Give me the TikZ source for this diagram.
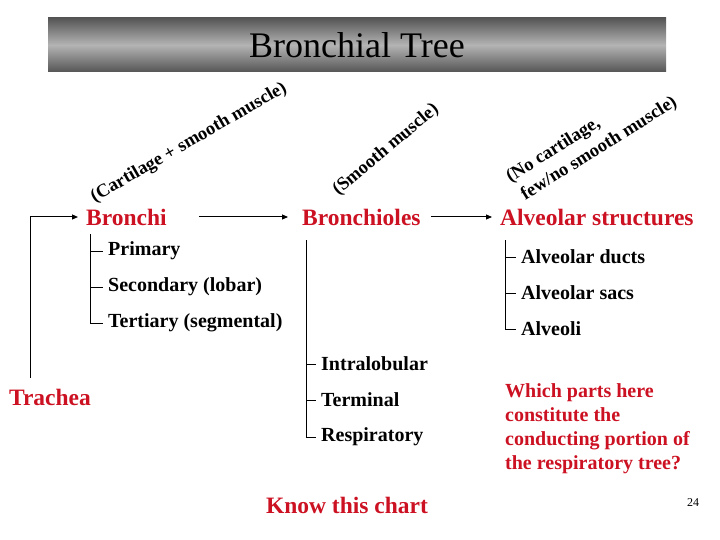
\documentclass[tikz,border=0pt]{standalone}
\usepackage{fontspec}
\setmainfont{Liberation Serif}
\usepackage{tikz}
\usetikzlibrary{arrows.meta, positioning, calc}
\definecolor{slidered}{RGB}{204,17,34}
\definecolor{bandedge}{RGB}{85,85,85}
\definecolor{bandmid}{RGB}{180,180,180}
\tikzset{
  level/.style={font=\fontsize{23.5}{26}\selectfont\bfseries, text=slidered, inner sep=4pt},
  sublevel/.style={font=\fontsize{20}{22}\selectfont\bfseries, anchor=west, inner sep=5pt},
  note/.style={font=\fontsize{18.5}{23}\selectfont\bfseries, align=center, inner sep=0pt},
  arrow/.style={-{Triangle[length=6pt, width=5pt]}, line width=1pt, color=black},
  line/.style={draw, line width=1pt, color=black}
}

\begin{document}
\begin{tikzpicture}[x=1pt, y=-1pt]
  \useasboundingbox (0,0) rectangle (720,540);

  % Title band
  \node[top color=bandedge, bottom color=bandedge, middle color=bandmid,
    minimum width=618pt, minimum height=54pt, inner sep=0pt,
    font=\fontsize{36}{40}\selectfont] (title) at (357,45) {Bronchial Tree};

  % Main levels
  \node[level, anchor=west] (bronchi) at (82,217) {Bronchi};
  \node[level, anchor=west] (bronchioles) at (298,217) {Bronchioles};
  \node[level, anchor=west] (alveolar) at (496,217) {Alveolar structures};
  \node[level] (trachea) at (50,397) {Trachea};

  % Notes above the levels
  \node[note, rotate=30] (cartnote) at (189,143) {(Cartilage + smooth muscle)};
  \node[note, rotate=40] (smoothnote) at (386,150) {(Smooth muscle)};
  \node[note, align=left, rotate=32] (nocartnote) at (592,140) {(No cartilage,\\\hspace{3pt}few/no smooth muscle)};

  % Level arrows
  \coordinate (trunk) at (30,378);
  \draw[arrow, shorten >=4pt] (trunk) |- (bronchi.west);
  \draw[arrow, shorten >=10pt] ($(bronchi.east)+(28,0)$) -- (bronchioles.west);
  \draw[arrow, shorten >=4pt] ($(bronchioles.east)+(6,0)$) -- (alveolar.west);

  % Bronchi branches
  \node[sublevel] (primary) at (103,251) {Primary};
  \node[sublevel] (secondary) at (103,287) {Secondary (lobar)};
  \node[sublevel] (tertiary) at (103,323) {Tertiary (segmental)};
  \coordinate (bstem) at (90,234);
  \draw[line] (bstem) |- (tertiary.west);
  \draw[line] (bstem |- primary.west) -- (primary.west);
  \draw[line] (bstem |- secondary.west) -- (secondary.west);

  % Bronchiole branches
  \node[sublevel] (intralobular) at (316,364) {Intralobular};
  \node[sublevel] (terminal) at (316,400) {Terminal};
  \node[sublevel] (respiratory) at (316,437) {Respiratory};
  \coordinate (blstem) at (306,240);
  \draw[line] (blstem) |- (respiratory.west);
  \draw[line] (blstem |- intralobular.west) -- (intralobular.west);
  \draw[line] (blstem |- terminal.west) -- (terminal.west);

  % Alveolar branches
  \node[sublevel] (ducts) at (516,257) {Alveolar ducts};
  \node[sublevel] (sacs) at (516,293) {Alveolar sacs};
  \node[sublevel] (alveoli) at (516,329) {Alveoli};
  \coordinate (astem) at (505,240);
  \draw[line] (astem) |- (alveoli.west);
  \draw[line] (astem |- ducts.west) -- (ducts.west);
  \draw[line] (astem |- sacs.west) -- (sacs.west);

  % Question and footer
  \node[anchor=north west, align=left, inner sep=0pt, text=slidered,
    font=\fontsize{20}{24}\selectfont\bfseries] (question) at (505,383)
    {Which parts here\\constitute the\\conducting portion of\\the respiratory tree?};
  \node[font=\fontsize{23.5}{26}\selectfont\bfseries, text=slidered] (knowchart) at (347,505) {Know this chart};
  \node[font=\fontsize{12}{14}\selectfont] (pagenum) at (693,503) {24};
\end{tikzpicture}
\end{document}
